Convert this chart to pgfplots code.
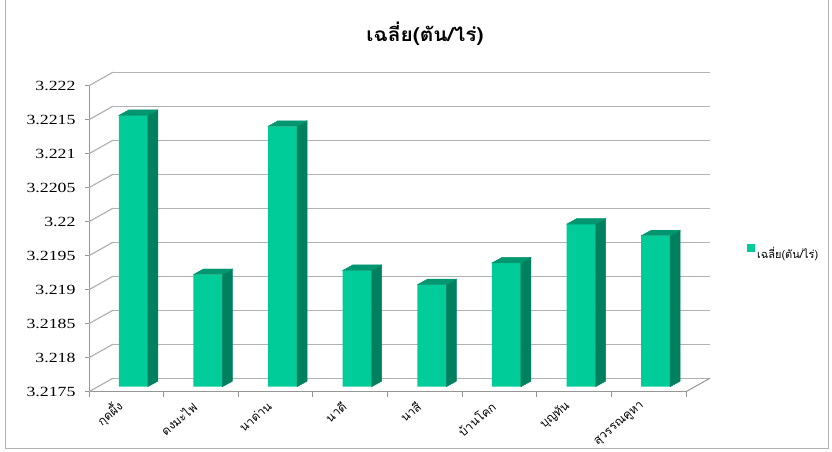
\documentclass[border=0pt]{standalone}
\usepackage{pgfplots}
\pgfplotsset{compat=1.18}
\usepackage{pgfplotstable}
\usepackage{fontspec}
\setmainfont{Liberation Serif}
\newfontfamily\thaifont[Script=Thai]{Loma}

\definecolor{frontgreen}{RGB}{0,204,153}
\definecolor{sidegreen}{RGB}{0,128,94}
\definecolor{topgreen}{RGB}{0,150,112}
\definecolor{gridgray}{RGB}{178,178,178}
\definecolor{axisgray}{RGB}{150,150,150}

% average yield (ton/rai) per sub-district
\pgfplotstableread{
x v
0.5 3.22149
1.5 3.21915
2.5 3.22133
3.5 3.21921
4.5 3.21900
5.5 3.21932
6.5 3.21989
7.5 3.21972
}\yielddata

\begin{document}
\begin{tikzpicture}
\useasboundingbox (0,0) rectangle (832pt,452pt);
\draw[gray!60, line width=0.8pt] (5pt,460pt) -- (5pt,4pt) -- (828pt,4pt) -- (828pt,460pt);
\begin{axis}[
  at={(89pt,60.3pt)}, anchor=south west,
  scale only axis, width=597pt, height=306pt,
  xmin=0, xmax=8, ymin=0, ymax=45,
  clip=false,
  axis x line*=bottom, axis y line*=left,
  axis line style={draw=axisgray, line width=1pt},
  ytick={0,5,...,45},
  yticklabels={3.2175,3.218,3.2185,3.219,3.2195,3.22,3.2205,3.221,3.2215,3.222},
  yticklabel style={font=\fontsize{14}{14}\selectfont, xscale=1.27, anchor=east, xshift=-4pt},
  ymajorgrids,
  major grid style={draw=gridgray, line width=1.2pt, xshift=24pt, yshift=13.5pt},
  tick align=outside, major tick length=4pt, minor tick length=5pt,
  tick style={draw=axisgray, line width=1pt},
  xtick={0.5,1.5,...,7.5},
  xticklabels={กุดผึ้ง,ดงมะไฟ,นาด่าน,นาดี,นาสี,บ้านโคก,บุญทัน,สุวรรณคูหา},
  major x tick style={draw=none},
  minor xtick={0,1,...,8},
  xticklabel style={font=\thaifont\fontsize{12}{13}\selectfont, rotate=40, anchor=east,
    inner sep=1pt, xshift=-9pt, yshift=-3pt},
  legend style={draw=none, fill=none, at={(axis description cs:1.102,0.453)}, anchor=west,
    font=\thaifont\fontsize{11}{11}\selectfont, inner sep=0pt},
  legend image code/.code={\fill[frontgreen] (0pt,-4pt) rectangle (8pt,4pt);},
]
% left side wall and floor edge
\pgfplotsinvokeforeach{0,5,10,15,20,25,30,35,40,45}{
  \draw[gridgray, line width=1.2pt] (axis cs:0,#1) -- ++(24pt,13.5pt);
}
\draw[axisgray, line width=1pt] (axis cs:8,0) -- ++(24pt,13.5pt);

% front faces of the columns
\addplot[ybar, bar width=29pt, bar shift=7pt, yshift=5pt, fill=frontgreen, draw=none]
  table[x=x, y expr=(\thisrow{v}-3.2175)*10000] {\yielddata};
\addlegendentry{เฉลี่ย(ตัน/ไร่)}

% top and side faces of the columns
\addplot[forget plot, only marks, mark=*, mark size=0pt, mark options={draw=none, fill=none},
  scatter,
  visualization depends on={y \as \yv},
  scatter/@pre marker code/.code={%
    \pgfmathsetmacro\hh{\yv*6.8}%
    \pgfmathsetmacro\hb{5-\hh}%
    \pgfmathsetmacro\hc{10.5-\hh}%
    \fill[sidegreen] (21.5pt,5pt) -- (31.5pt,10.5pt) -- (31.5pt,\hc pt) -- (21.5pt,\hb pt) -- cycle;
    \fill[topgreen] (-7.5pt,5pt) -- (21.5pt,5pt) -- (31.5pt,10.5pt) -- (2.5pt,10.5pt) -- cycle;
  },
  scatter/@post marker code/.code={},
] table[x=x, y expr=(\thisrow{v}-3.2175)*10000] {\yielddata};
\end{axis}
\node[font=\thaifont\bfseries\fontsize{19}{19}\selectfont, xscale=1.1] at (425pt,418pt) {เฉลี่ย(ตัน/ไร่)};
\end{tikzpicture}
\end{document}
